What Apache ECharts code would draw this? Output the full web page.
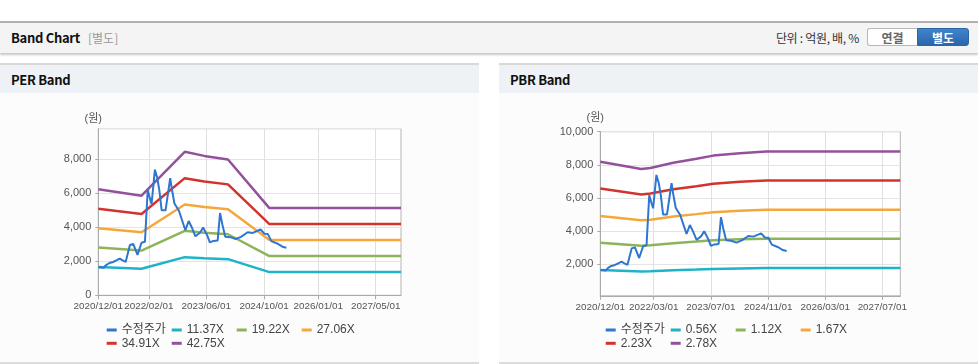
<!DOCTYPE html>
<html>
<head>
<meta charset="utf-8">
<script src="https://cdn.jsdelivr.net/npm/echarts@6/dist/echarts.min.js"></script>
<style>
  html, body { margin: 0; padding: 0; }
  body { width: 978px; height: 364px; position: relative; overflow: hidden; background: #fff;
         font-family: "Noto Sans CJK KR", "Liberation Sans", sans-serif; }
  .hdr { position: absolute; left: 0; top: 21px; width: 978px; height: 30px;
         border-top: 2px solid #b0b0b0; background: #f4f4f4;
         box-shadow: 0 2px 2px rgba(0,0,0,0.22); }
  .hdr .t { position: absolute; left: 11px; top: 5px; font-size: 13px; font-weight: bold; color: #111; letter-spacing: -0.3px; }
  .hdr .s { position: absolute; left: 88px; top: 6px; font-size: 12px; color: #999; }
  .hdr .u { position: absolute; right: 119px; top: 6px; font-size: 12px; color: #333; letter-spacing: -0.3px; }
  .btn { position: absolute; top: 5px; width: 50px; height: 18px; line-height: 17px; text-align: center;
         font-size: 12px; font-weight: bold; box-sizing: border-box; }
  .b1 { left: 867px; border: 1px solid #b8b8b8; border-right: none; border-radius: 3px 0 0 3px; background: #fff; color: #666; }
  .b2 { left: 917px; width: 52px; border: 1px solid #2a65a8; border-radius: 0 3px 3px 0;
        background: linear-gradient(#3f85cc, #2a66ab); color: #fff; }
  .panel { position: absolute; top: 63px; width: 479px; height: 297px; border-top: 2px solid #d8d8d8;
           border-bottom: 2px solid #dcdcdc; background: #fcfcfc; }
  .panel .ph { height: 28px; background: #eef2f7; }
  .panel .ph span { position: absolute; left: 11px; top: 5px; font-size: 13px; font-weight: bold; color: #111; letter-spacing: -0.3px; }
  #chart { position: absolute; left: 0; top: 0; width: 978px; height: 364px; }
</style>
</head>
<body>
<div class="hdr">
  <span class="t">Band Chart</span><span class="s">[별도]</span>
  <span class="u">단위 : 억원, 배, %</span>
  <div class="btn b1">연결</div><div class="btn b2">별도</div>
</div>
<div class="panel" style="left:0"><div class="ph"><span>PER Band</span></div></div>
<div class="panel" style="left:499px"><div class="ph"><span>PBR Band</span></div></div>
<div id="chart"></div>
<script>
// ---------------- data ----------------
const perTicks = ['2020-12-01','2022-02-01','2023-06-01','2024-10-01','2026-01-01','2027-05-01'];
const pbrTicks = ['2020-12-01','2022-03-01','2023-07-01','2024-11-01','2026-03-01','2027-07-01'];
const xStart = '2020-12-01';
const xEnd = '2027-12-01';

const priceName = '수정주가';
const priceDates = ['2020-12-04','2020-12-20','2021-01-15','2021-02-05','2021-03-05','2021-04-05','2021-05-10','2021-06-01','2021-06-25','2021-07-20','2021-08-05','2021-08-25','2021-09-22','2021-10-10','2021-10-28','2021-12-01','2021-12-30','2022-01-22','2022-02-10','2022-02-24','2022-03-24','2022-04-13','2022-04-30','2022-05-20','2022-06-03','2022-06-22','2022-07-03','2022-07-31','2022-08-14','2022-09-05','2022-10-13','2022-12-06','2023-01-03','2023-01-31','2023-03-01','2023-04-10','2023-05-05','2023-06-07','2023-07-01','2023-08-01','2023-09-05','2023-09-25','2023-10-15','2023-11-08','2023-12-20','2024-02-05','2024-03-20','2024-05-15','2024-06-27','2024-09-01','2024-10-04','2024-11-02','2024-12-01','2025-01-25','2025-03-05','2025-04-07'];
const priceValues = [1650,1590,1620,1780,1900,1960,2080,2160,2050,1960,1870,2960,3020,2700,2380,3090,3150,6180,5700,5380,7390,6900,6200,5000,4950,5000,5100,6890,6250,5400,4970,3830,4370,3970,3470,3700,3990,3550,3110,3200,3230,4840,4150,3450,3420,3310,3440,3710,3670,3870,3620,3600,3190,3030,2860,2800];

const perBandNames = ['11.37X','19.22X','27.06X','34.91X','42.75X'];
const perBandDates = ['2020-12-01','2021-12-01','2022-12-01','2023-05-15','2023-12-01','2024-11-15','2027-12-01'];
const per1137 = [1660,1558,2244,2181,2125,1364,1364];
const per1922 = [2806,2633,3794,3686,3592,2306,2306];
const per2706 = [3951,3707,5342,5190,5058,3247,3247];
const per3491 = [5097,4783,6891,6696,6525,4189,4189];
const per4275 = [6242,5857,8439,8200,7990,5130,5130];

const pbrBandNames = ['0.56X','1.12X','1.67X','2.23X','2.78X'];
const pbrBandDates = ['2020-12-01','2021-11-15','2022-02-01','2022-08-15','2023-03-01','2023-07-21','2024-03-05','2024-10-15','2027-12-01'];
const pbr056 = [1650,1561,1574,1638,1686,1724,1754,1772,1772];
const pbr112 = [3300,3123,3147,3276,3371,3447,3508,3545,3545];
const pbr167 = [4920,4656,4693,4885,5027,5140,5230,5286,5286];
const pbr223 = [6570,6217,6266,6523,6712,6864,6984,7058,7058];
const pbr278 = [8190,7751,7812,8132,8368,8557,8707,8799,8799];

// ---------------- styling ----------------
const priceColor = '#2e76cf';
const bandColors = ['#1fb3c7', '#8db459', '#f4a83c', '#d2332f', '#94519b'];
const axisFont = '"Liberation Sans", sans-serif';
const legendFont = '"Liberation Sans", "Noto Sans CJK KR", sans-serif';

const ts = s => echarts.time.parse(s).getTime();
const pairs = (dates, vals) => dates.map((d, i) => [ts(d), vals[i]]);

const chart = echarts.init(document.getElementById('chart'), null, { renderer: 'canvas' });

const grids = [
  { left: 98.3, top: 128.7, width: 302.7, height: 166.6 },
  { left: 600.3, top: 131.7, width: 300, height: 164.1 }
];

function xAxisFor(gi, ticks) {
  const tv = ticks.map(ts);
  return {
    type: 'value', gridIndex: gi, min: ts(xStart), max: ts(xEnd),
    axisLine: { lineStyle: { color: '#aaaaaa', width: 1 } },
    axisTick: { show: true, customValues: tv, length: 4, lineStyle: { color: '#aaaaaa' } },
    axisLabel: { customValues: tv, margin: 6, color: '#555', fontSize: 9.9, fontFamily: axisFont,
                 showMinLabel: true, showMaxLabel: true, hideOverlap: false,
                 formatter: v => echarts.time.format(v, '{yyyy}/{MM}/{dd}', false) },
    splitLine: { show: true, lineStyle: { color: '#e0e0e0', width: 1 } }
  };
}
function yAxisFor(gi, min, max, nameGap) {
  const ax = {
    type: 'value', gridIndex: gi, min: min, max: max,
    name: '(원)', nameLocation: 'end', nameGap: nameGap,
    nameTextStyle: { color: '#555', fontSize: 11, fontFamily: legendFont, align: 'center', padding: [0, 10, 0, 0] },
    axisLine: { show: true, lineStyle: { color: '#aaaaaa', width: 1 } },
    axisTick: { show: true, length: 3, lineStyle: { color: '#aaaaaa' } },
    axisLabel: { margin: 7, color: '#555', fontSize: 11, fontFamily: axisFont,
                 showMaxLabel: gi === 1, showMinLabel: gi === 0 },
    splitLine: { show: true, lineStyle: { color: '#e4e4e4', width: 1 } }
  };
  if (gi === 0) ax.interval = 2000;
  return ax;
}

const series = [];
function addChart(gi, bandNames, bandDates, bandVals) {
  series.push({ name: priceName, type: 'line', xAxisIndex: gi, yAxisIndex: gi, showSymbol: false, symbol: 'none',
                data: pairs(priceDates, priceValues), lineStyle: { color: priceColor, width: 2 },
                itemStyle: { color: priceColor }, z: 3 });
  bandNames.forEach((n, i) => {
    series.push({ name: n, type: 'line', xAxisIndex: gi, yAxisIndex: gi, showSymbol: false, symbol: 'none',
                  data: pairs(bandDates, bandVals[i]), lineStyle: { color: bandColors[i], width: 2.5 },
                  itemStyle: { color: bandColors[i] }, z: 2 });
  });
}
addChart(0, perBandNames, perBandDates, [per1137, per1922, per2706, per3491, per4275]);
addChart(1, pbrBandNames, pbrBandDates, [pbr056, pbr112, pbr167, pbr223, pbr278]);

const legends = [];
function addLegends(names, left0) {
  names.forEach((n, i) => {
    const col = i % 4, row = Math.floor(i / 4);
    legends.push({
      data: [n], left: left0 + col * 65, top: 323 + row * 13.3, padding: 0,
      icon: 'rect', itemWidth: 10, itemHeight: 3, itemGap: 0, selectedMode: false,
      textStyle: { fontSize: 12, lineHeight: 14, color: '#444', fontFamily: legendFont }
    });
  });
}
addLegends([priceName].concat(perBandNames), 106.7);
addLegends([priceName].concat(pbrBandNames), 605.7);

chart.setOption({
  animation: false,
  backgroundColor: 'transparent',
  grid: grids.map(g => Object.assign({ show: true, borderColor: '#b4b4b4', borderWidth: 1, backgroundColor: '#ffffff' }, g)),
  xAxis: [xAxisFor(0, perTicks), xAxisFor(1, pbrTicks)],
  yAxis: [yAxisFor(0, 0, 9800, 4), yAxisFor(1, 100, 10000, 8)],
  legend: legends,
  series: series
});
</script>
</body>
</html>
